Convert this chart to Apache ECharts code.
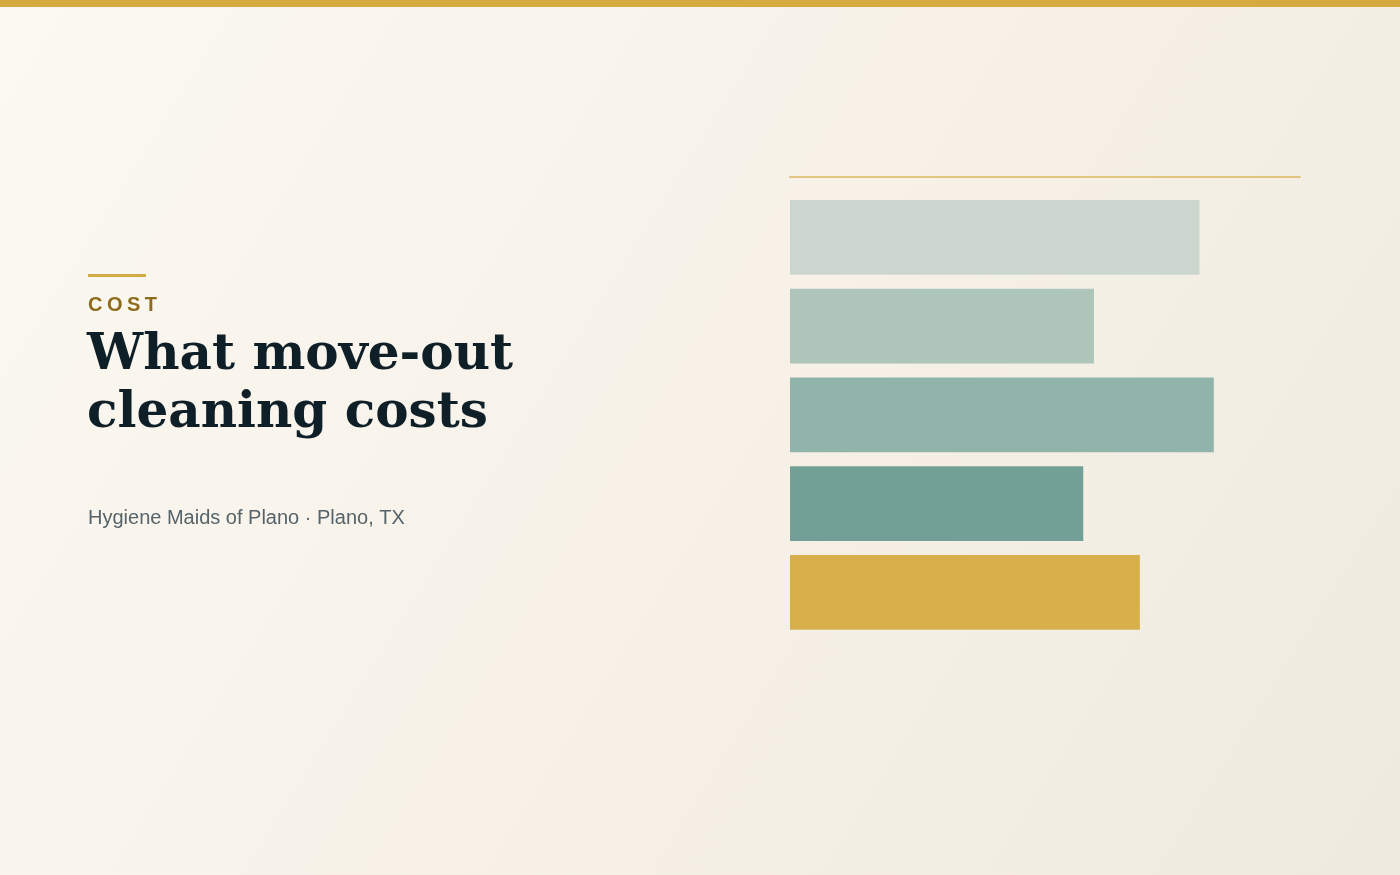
<!DOCTYPE html>
<html>
<head>
<meta charset="utf-8">
<script src="https://cdn.jsdelivr.net/npm/echarts@6/dist/echarts.min.js"></script>
<style>
html,body{margin:0;padding:0;width:1400px;height:875px;overflow:hidden;}
#chart{width:1400px;height:875px;}
</style>
</head>
<body>
<div id="chart"></div>
<script>
// Data (bar lengths, relative to an axis max of 100)
const categories = ['Item 1', 'Item 2', 'Item 3', 'Item 4', 'Item 5'];
const values = [80.3, 59.6, 83.1, 57.5, 68.6];
const barColors = ['#cbd7ce', '#adc5bb', '#91b4aa', '#72a097', '#d8b04b'];
const eyebrow = 'COST';
const titleLines = ['What move-out', 'cleaning costs'];
const subtitle = 'Hygiene Maids of Plano \u00b7 Plano, TX';

// eyebrow as rich text, one fragment per letter so it can be letter-spaced
const eyebrowRich = eyebrow.split('').map(ch => '{l|' + ch + '}').join('');

const chart = echarts.init(document.getElementById('chart'));
chart.setOption({
  animation: false,
  backgroundColor: {
    type: 'linear', x: 0, y: 0, x2: 1, y2: 1,
    colorStops: [
      { offset: 0, color: '#fbf9f2' },
      { offset: 0.5, color: '#f7f1e8' },
      { offset: 1, color: '#efeae0' }
    ]
  },
  grid: { left: 790, right: 100, top: 193, height: 443.75, containLabel: false },
  xAxis: {
    type: 'value', min: 0, max: 100, position: 'top', offset: 16,
    axisLine: { show: true, lineStyle: { color: '#e2c57e', width: 2 } },
    axisTick: { show: false }, axisLabel: { show: false }, splitLine: { show: false }
  },
  yAxis: {
    type: 'category', data: categories, inverse: true,
    axisLine: { show: false }, axisTick: { show: false }, axisLabel: { show: false }
  },
  series: [{
    type: 'bar',
    data: values.map((v, i) => ({ value: v, itemStyle: { color: barColors[i] } })),
    barCategoryGap: '16%'
  }],
  graphic: [
    { type: 'rect', left: 0, top: 0, shape: { width: 1400, height: 7 }, style: { fill: '#d6aa3e' } },
    { type: 'rect', left: 88, top: 274, shape: { width: 58, height: 3 }, style: { fill: '#d4aa45' } },
    { type: 'text', left: 88, top: 295, style: {
        text: eyebrowRich,
        rich: { l: { fill: '#8f6a1a', font: 'bold 20px "Liberation Sans", Arial, sans-serif', padding: [0, 4.5, 0, 0] } }
    } },
    { type: 'text', left: 87, top: 331, style: { text: titleLines[0], fill: '#0f1f28', font: 'bold 50px "DejaVu Serif", serif' } },
    { type: 'text', left: 87, top: 389, style: { text: titleLines[1], fill: '#0f1f28', font: 'bold 50px "DejaVu Serif", serif' } },
    { type: 'text', left: 88, top: 508, style: { text: subtitle, fill: '#56646a', font: '20px "Liberation Sans", Arial, sans-serif' } }
  ]
});
</script>
</body>
</html>
